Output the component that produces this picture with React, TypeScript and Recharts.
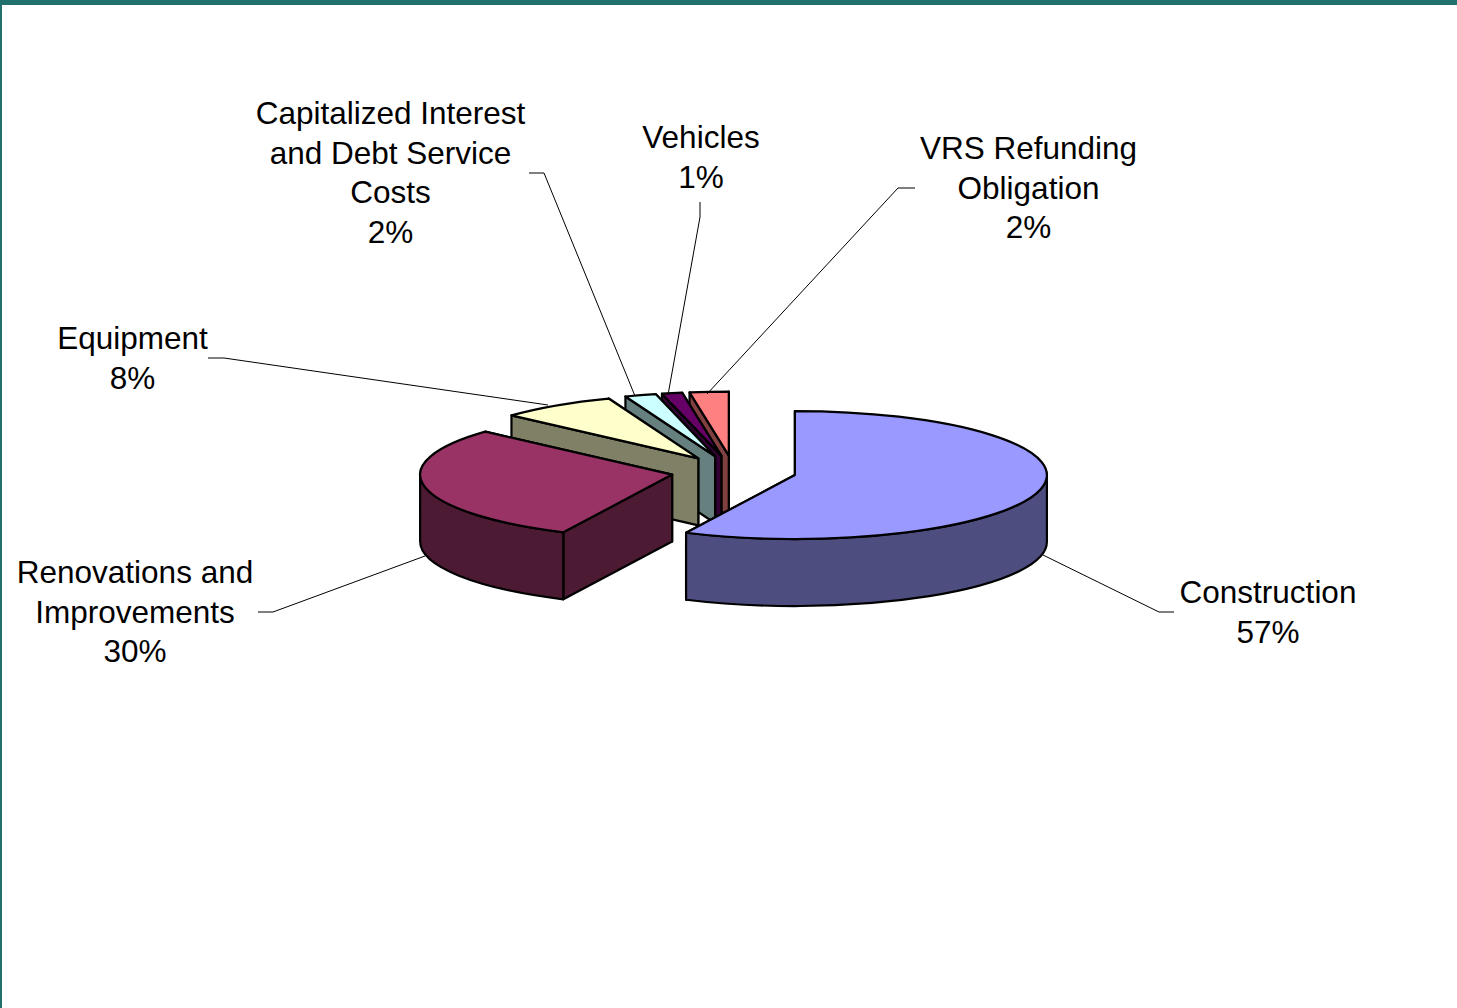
import { PieChart, Pie } from "recharts";

// listed back to front, so the nearer slices paint over the farther ones
const names = [
  "VRS Refunding Obligation",
  "Vehicles",
  "Capitalized Interest and Debt Service Costs",
  "Equipment",
  "Renovations and Improvements",
  "Construction",
];
const shares = [2.49, 1.3, 2.0, 7.5, 29.6, 57.1];

const topColors = ["#FF8080", "#660066", "#CCFFFF", "#FFFFCC", "#993366", "#9999FF"];
const sideColors = ["#804040", "#330033", "#668080", "#808066", "#4D1A33", "#4D4D80"];

// label lines and leader line for each slice
const labelLayouts = [
  { lines: ["VRS Refunding", "Obligation"], x: 1028.5, y: 159, leader: "915,188 898,188 707,394" },
  { lines: ["Vehicles"], x: 701, y: 148, leader: "700,202 700,217 668,395" },
  {
    lines: ["Capitalized Interest", "and Debt Service", "Costs"],
    x: 390.5,
    y: 124,
    leader: "529,173 544,173 635,396",
  },
  { lines: ["Equipment"], x: 132.5, y: 349, leader: "208,358 224,358 548,405" },
  { lines: ["Renovations and", "Improvements"], x: 135, y: 583, leader: "258,612 273,612 425,556" },
  { lines: ["Construction"], x: 1268, y: 603, leader: "1174,612 1159,612 1043,555" },
];

const TILT = 64 / 252;
const DEPTH = 67;
const EXPLODE = 0.249;
const LINE_STEP = 39.6;

const pieData = names.map((name, i) => ({
  name,
  value: shares[i],
  fill: topColors[i],
  side: sideColors[i],
}));

const rad = (deg: number) => (deg * Math.PI) / 180;

const Slice3D = (props: any) => {
  const { cx, cy, outerRadius, startAngle, endAngle, fill, side } = props;
  const rx = outerRadius;
  const ry = outerRadius * TILT;
  const mid = (startAngle + endAngle) / 2;
  const ox = cx + EXPLODE * rx * Math.cos(rad(mid));
  const oy = cy - EXPLODE * ry * Math.sin(rad(mid));
  const pt = (a: number, drop = 0) =>
    `${ox + rx * Math.cos(rad(a))} ${oy - ry * Math.sin(rad(a)) + drop}`;
  const cut = (a: number) =>
    `M${ox} ${oy}L${pt(a)}L${pt(a, DEPTH)}L${ox} ${oy + DEPTH}Z`;

  const lo = Math.max(startAngle, 180);
  const hi = Math.min(endAngle, 360);
  const large = hi - lo > 180 ? 1 : 0;
  const outer =
    hi > lo
      ? `M${pt(lo)}A${rx} ${ry} 0 ${large} 0 ${pt(hi)}L${pt(hi, DEPTH)}A${rx} ${ry} 0 ${large} 1 ${pt(lo, DEPTH)}Z`
      : null;
  const topLarge = endAngle - startAngle > 180 ? 1 : 0;
  const top = `M${ox} ${oy}L${pt(startAngle)}A${rx} ${ry} 0 ${topLarge} 0 ${pt(endAngle)}Z`;

  const stroke = { stroke: "#000", strokeWidth: 2.2, strokeLinejoin: "round" as const };
  return (
    <g>
      <path d={cut(startAngle)} fill={side} {...stroke} />
      <path d={cut(endAngle)} fill={side} {...stroke} />
      {outer && <path d={outer} fill={side} {...stroke} />}
      <path d={top} fill={fill} {...stroke} />
    </g>
  );
};

const SliceLabel = (props: any) => {
  const { index, percent } = props;
  const layout = labelLayouts[index];
  const rows = [...layout.lines, `${Math.round(percent * 100)}%`];
  return (
    <g>
      <polyline points={layout.leader} fill="none" stroke="#000" strokeWidth={1} />
      <text
        textAnchor="middle"
        fontFamily="'Liberation Sans', Arial, sans-serif"
        fontSize={31.5}
        fill="#000"
      >
        {rows.map((row, i) => (
          <tspan key={row} x={layout.x} y={layout.y + i * LINE_STEP}>
            {row}
          </tspan>
        ))}
      </text>
    </g>
  );
};

export default function App() {
  return (
    <div
      style={{
        position: "absolute",
        left: 0,
        top: 0,
        width: 1457,
        height: 1008,
        background: "#fff",
        overflow: "hidden",
      }}
    >
      <div style={{ position: "absolute", left: 0, top: 0, width: 1457, height: 5, background: "#22706E" }} />
      <div style={{ position: "absolute", left: 0, top: 0, width: 2, height: 1008, background: "#22706E" }} />
      <PieChart width={1457} height={1008} margin={{ top: 0, right: 0, bottom: 0, left: 0 }}>
        <Pie
          data={pieData}
          dataKey="value"
          nameKey="name"
          cx={733.7}
          cy={471.5}
          innerRadius={0}
          outerRadius={252}
          startAngle={90}
          endAngle={450}
          paddingAngle={0}
          stroke="none"
          shape={Slice3D}
          label={SliceLabel}
          labelLine={false}
          isAnimationActive={false}
        />
      </PieChart>
    </div>
  );
}
